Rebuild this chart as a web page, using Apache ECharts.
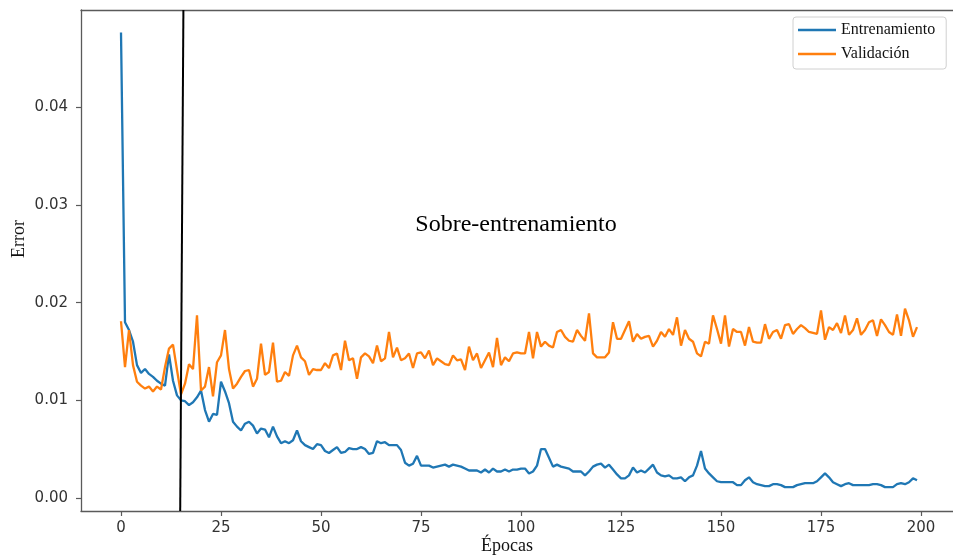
<!DOCTYPE html>
<html>
<head>
<meta charset="utf-8">
<script src="https://cdn.jsdelivr.net/npm/echarts@6/dist/echarts.min.js"></script>
<style>
  html, body { margin: 0; padding: 0; background: #ffffff; }
  #chart { width: 953px; height: 555px; }
</style>
</head>
<body>
<div id="chart"></div>
<script>
// Error por época (200 épocas)
const entrenamiento = [
  0.0477, 0.0180, 0.0172, 0.0160, 0.0136, 0.0128, 0.0132, 0.0127, 0.0124, 0.0120,
  0.0117, 0.0115, 0.0147, 0.0120, 0.0105, 0.0100, 0.0099, 0.0095, 0.0098, 0.0103,
  0.0110, 0.0090, 0.0078, 0.0086, 0.0085, 0.0119, 0.0109, 0.0097, 0.0078, 0.0073,
  0.0069, 0.0076, 0.0078, 0.0074, 0.0066, 0.0071, 0.0070, 0.0062, 0.0073, 0.0063,
  0.0056, 0.0058, 0.0056, 0.0059, 0.0069, 0.0058, 0.0054, 0.0052, 0.0050, 0.0055,
  0.0054, 0.0048, 0.0046, 0.0049, 0.0052, 0.0046, 0.0047, 0.0051, 0.0050, 0.0050,
  0.0052, 0.0050, 0.0045, 0.0046, 0.0058, 0.0056, 0.0057, 0.0054, 0.0054, 0.0054,
  0.0049, 0.0036, 0.0033, 0.0035, 0.0043, 0.0033, 0.0033, 0.0033, 0.0031, 0.0032,
  0.0033, 0.0034, 0.0032, 0.0034, 0.0033, 0.0032, 0.0030, 0.0028, 0.0028, 0.0028,
  0.0026, 0.0029, 0.0026, 0.0030, 0.0027, 0.0027, 0.0029, 0.0027, 0.0029, 0.0029,
  0.0030, 0.0030, 0.0025, 0.0027, 0.0033, 0.0050, 0.0050, 0.0041, 0.0032, 0.0034,
  0.0032, 0.0031, 0.0030, 0.0027, 0.0027, 0.0027, 0.0023, 0.0027, 0.0032, 0.0034,
  0.0035, 0.0031, 0.0034, 0.0029, 0.0024, 0.0020, 0.0020, 0.0023, 0.0031, 0.0026,
  0.0028, 0.0026, 0.0030, 0.0034, 0.0026, 0.0023, 0.0022, 0.0023, 0.0020, 0.0020,
  0.0021, 0.0017, 0.0021, 0.0023, 0.0033, 0.0048, 0.0030, 0.0025, 0.0021, 0.0017,
  0.0016, 0.0016, 0.0016, 0.0016, 0.0013, 0.0013, 0.0018, 0.0021, 0.0016, 0.0014,
  0.0013, 0.0012, 0.0012, 0.0014, 0.0014, 0.0013, 0.0011, 0.0011, 0.0011, 0.0013,
  0.0014, 0.0015, 0.0015, 0.0015, 0.0017, 0.0021, 0.0025, 0.0021, 0.0016, 0.0014,
  0.0012, 0.0014, 0.0015, 0.0013, 0.0013, 0.0013, 0.0013, 0.0013, 0.0014, 0.0014,
  0.0013, 0.0011, 0.0011, 0.0011, 0.0014, 0.0015, 0.0014, 0.0016, 0.0020, 0.0018
];

const validacion = [
  0.0181, 0.0134, 0.0172, 0.0136, 0.0119, 0.0115, 0.0112, 0.0114, 0.0109, 0.0114,
  0.0111, 0.0134, 0.0153, 0.0157, 0.0131, 0.0106, 0.0117, 0.0137, 0.0132, 0.0187,
  0.0110, 0.0114, 0.0134, 0.0104, 0.0139, 0.0146, 0.0172, 0.0132, 0.0112, 0.0117,
  0.0124, 0.0130, 0.0131, 0.0114, 0.0122, 0.0158, 0.0126, 0.0129, 0.0159, 0.0119,
  0.0120, 0.0129, 0.0125, 0.0146, 0.0156, 0.0144, 0.0140, 0.0126, 0.0132, 0.0131,
  0.0131, 0.0138, 0.0133, 0.0146, 0.0148, 0.0131, 0.0161, 0.0141, 0.0143, 0.0122,
  0.0144, 0.0148, 0.0145, 0.0138, 0.0156, 0.0140, 0.0143, 0.0170, 0.0144, 0.0154,
  0.0141, 0.0143, 0.0148, 0.0133, 0.0148, 0.0149, 0.0143, 0.0151, 0.0136, 0.0143,
  0.0140, 0.0137, 0.0136, 0.0146, 0.0141, 0.0142, 0.0131, 0.0155, 0.0141, 0.0148,
  0.0133, 0.0141, 0.0149, 0.0134, 0.0164, 0.0136, 0.0144, 0.0140, 0.0148, 0.0149,
  0.0148, 0.0148, 0.0170, 0.0143, 0.0170, 0.0155, 0.0160, 0.0156, 0.0154, 0.0170,
  0.0172, 0.0165, 0.0161, 0.0160, 0.0172, 0.0166, 0.0161, 0.0189, 0.0148, 0.0144,
  0.0144, 0.0144, 0.0149, 0.0180, 0.0163, 0.0163, 0.0172, 0.0181, 0.0160, 0.0168,
  0.0163, 0.0165, 0.0166, 0.0155, 0.0161, 0.0170, 0.0165, 0.0173, 0.0167, 0.0185,
  0.0156, 0.0172, 0.0163, 0.0160, 0.0148, 0.0145, 0.0160, 0.0158, 0.0187, 0.0173,
  0.0158, 0.0187, 0.0155, 0.0173, 0.0170, 0.0170, 0.0156, 0.0175, 0.0160, 0.0159,
  0.0159, 0.0178, 0.0163, 0.0170, 0.0172, 0.0163, 0.0177, 0.0178, 0.0168, 0.0173,
  0.0177, 0.0174, 0.0170, 0.0169, 0.0168, 0.0192, 0.0162, 0.0175, 0.0172, 0.0179,
  0.0169, 0.0187, 0.0167, 0.0172, 0.0184, 0.0167, 0.0172, 0.0180, 0.0182, 0.0166,
  0.0183, 0.0177, 0.0170, 0.0167, 0.0188, 0.0166, 0.0194, 0.0182, 0.0165, 0.0175
];

// Línea vertical que marca el inicio del sobre-entrenamiento (época, error)
const corteEpocas = [15.6, 14.8];
const corteErrores = [0.0500, -0.00135];

// Marcas de los ejes
const xTicks = [0, 25, 50, 75, 100, 125, 150, 175, 200];
const yTicks = [0.00, 0.01, 0.02, 0.03, 0.04];

const X_MIN = -10, X_MAX = 208;
const Y_MIN = -0.00135, Y_MAX = 0.0500;

const epocas = entrenamiento.map((_, i) => i);
const serieEntrenamiento = epocas.map(i => [i, entrenamiento[i]]);
const serieValidacion = epocas.map(i => [i, validacion[i]]);
const serieCorte = corteEpocas.map((e, i) => [e, corteErrores[i]]);

const SPINE = '#5a5a5a';
const TICK_TEXT = '#333333';

const chart = echarts.init(document.getElementById('chart'), null, { renderer: 'canvas' });

chart.setOption({
  animation: false,
  backgroundColor: '#ffffff',
  grid: { left: 81, right: 0, top: 10, bottom: 44, containLabel: false },
  xAxis: [
    {
      type: 'value', min: X_MIN, max: X_MAX,
      axisLine: { show: true, onZero: false, lineStyle: { color: SPINE, width: 1.3 } },
      axisTick: { show: true, customValues: xTicks, length: 5, lineStyle: { color: SPINE, width: 1.2 } },
      axisLabel: {
        customValues: xTicks, margin: 10, color: TICK_TEXT,
        fontFamily: 'DejaVu Sans', fontSize: 15
      },
      splitLine: { show: false }
    },
    {
      type: 'value', min: X_MIN, max: X_MAX, position: 'top',
      axisLine: { show: true, onZero: false, lineStyle: { color: SPINE, width: 1.3 } },
      axisTick: { show: false },
      axisLabel: { show: false },
      splitLine: { show: false }
    }
  ],
  yAxis: {
    type: 'value', min: Y_MIN, max: Y_MAX,
    axisLine: { show: true, onZero: false, lineStyle: { color: SPINE, width: 1.3 } },
    axisTick: { show: true, customValues: yTicks, length: 5, lineStyle: { color: SPINE, width: 1.2 } },
    axisLabel: {
      customValues: yTicks, margin: 13, color: TICK_TEXT,
      fontFamily: 'DejaVu Sans', fontSize: 15,
      formatter: v => v.toFixed(2)
    },
    splitLine: { show: false }
  },
  legend: {
    data: ['Entrenamiento', 'Validación'],
    orient: 'vertical',
    left: 793, top: 17,
    padding: [5, 11, 7, 5],
    icon: 'rect',
    itemWidth: 38, itemHeight: 2.5, itemGap: 8,
    backgroundColor: '#ffffff',
    borderColor: '#d0d0d0', borderWidth: 1, borderRadius: 3,
    textStyle: { fontFamily: 'Liberation Serif', fontSize: 16, color: '#111111' }
  },
  series: [
    {
      name: 'Entrenamiento', type: 'line', data: serieEntrenamiento,
      symbol: 'none', smooth: false,
      lineStyle: { color: '#1f77b4', width: 2.3 },
      itemStyle: { color: '#1f77b4' }, z: 3
    },
    {
      name: 'Validación', type: 'line', data: serieValidacion,
      symbol: 'none', smooth: false,
      lineStyle: { color: '#ff7f0e', width: 2.3 },
      itemStyle: { color: '#ff7f0e' }, z: 3
    },
    {
      name: 'corte', type: 'line', data: serieCorte,
      symbol: 'none', silent: true,
      lineStyle: { color: '#000000', width: 2 },
      z: 4
    }
  ],
  graphic: [
    {
      type: 'text', x: 516, y: 225,
      style: {
        text: 'Sobre-entrenamiento', fill: '#000000',
        font: '24px "Liberation Serif"', align: 'center', verticalAlign: 'middle'
      }
    },
    {
      type: 'text', x: 507, y: 546,
      style: {
        text: 'Épocas', fill: '#111111',
        font: '18px "Liberation Serif"', align: 'center', verticalAlign: 'middle'
      }
    },
    {
      type: 'text', x: 19, y: 239, rotation: Math.PI / 2,
      style: {
        text: 'Error', fill: '#111111',
        font: '18px "Liberation Serif"', align: 'center', verticalAlign: 'middle'
      }
    }
  ]
});
</script>
</body>
</html>
